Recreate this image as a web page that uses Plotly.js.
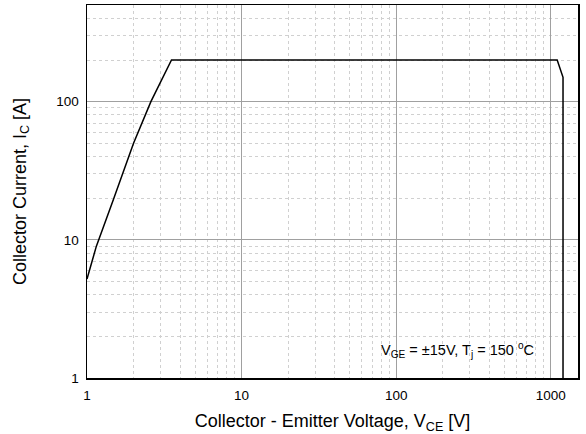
<!DOCTYPE html>
<html>
<head>
<meta charset="utf-8">
<script src="https://cdn.plot.ly/plotly-3.0.1.min.js"></script>
<style>html,body{margin:0;padding:0;background:#fff;}#chart{width:586px;height:434px;}</style>
</head>
<body>
<div id="chart"></div>
<script>
const vce = [1, 1.15, 1.48, 2, 2.59, 3.52, 1100, 1200, 1200];
const ic  = [5.2, 9, 19.5, 50, 100, 200, 200, 150, 1];
const xTickVals = [1, 10, 100, 1000];
const xTickText = ['1', '10', '100', '1000'];
const yTickVals = [1, 10, 100];
const yTickText = ['1', '10', '100'];
const noteText = 'V<sub>GE</sub> = ±15V, T<sub>j</sub> = 150 <sup>o</sup>C';

const trace = {
  x: vce, y: ic, type: 'scatter', mode: 'lines',
  line: {color: '#000', width: 1.5}, hoverinfo: 'skip', showlegend: false
};

const axisCommon = {
  type: 'log', showline: true, linecolor: '#000', linewidth: 1.5, mirror: true,
  ticks: '', showgrid: true, gridcolor: '#a0a0a0', gridwidth: 1, zeroline: false,
  tickfont: {family: 'Liberation Sans, Arial, sans-serif', size: 13.5, color: '#000'},
  minor: {showgrid: true, gridcolor: '#d0d0d0', griddash: 'dot', gridwidth: 1, dtick: 'D1'}
};

const layout = {
  width: 586, height: 434,
  margin: {l: 87, r: 8, t: 5, b: 56},
  paper_bgcolor: '#fff', plot_bgcolor: '#fff',
  font: {family: 'Liberation Sans, Arial, sans-serif', color: '#000'},
  xaxis: Object.assign({}, axisCommon, {
    range: [0, Math.log10(1500)], tickvals: xTickVals, ticktext: xTickText, ticklabelstandoff: 4,
    title: {text: 'Collector - Emitter Voltage, V<sub>CE</sub> [V]', font: {size: 18}, standoff: 15}
  }),
  yaxis: Object.assign({}, axisCommon, {
    range: [0, Math.log10(500)], tickvals: yTickVals, ticktext: yTickText, ticklabelstandoff: 4,
    title: {text: 'Collector Current, I<sub>C</sub> [A]', font: {size: 18}, standoff: 25}
  }),
  shapes: [{
    type: 'rect', xref: 'paper', yref: 'paper', layer: 'between',
    x0: (372-87)/491, x1: (545-87)/491, y0: (378-368)/373, y1: (378-332)/373,
    fillcolor: '#fff', line: {width: 0}
  }],
  annotations: [{
    xref: 'paper', yref: 'paper', x: (457-87)/491, y: (378-350)/373,
    xanchor: 'center', yanchor: 'middle', showarrow: false,
    text: noteText, font: {size: 14.5, color: '#000'}
  }]
};

Plotly.newPlot('chart', [trace], layout, {staticPlot: true});
</script>
</body>
</html>
